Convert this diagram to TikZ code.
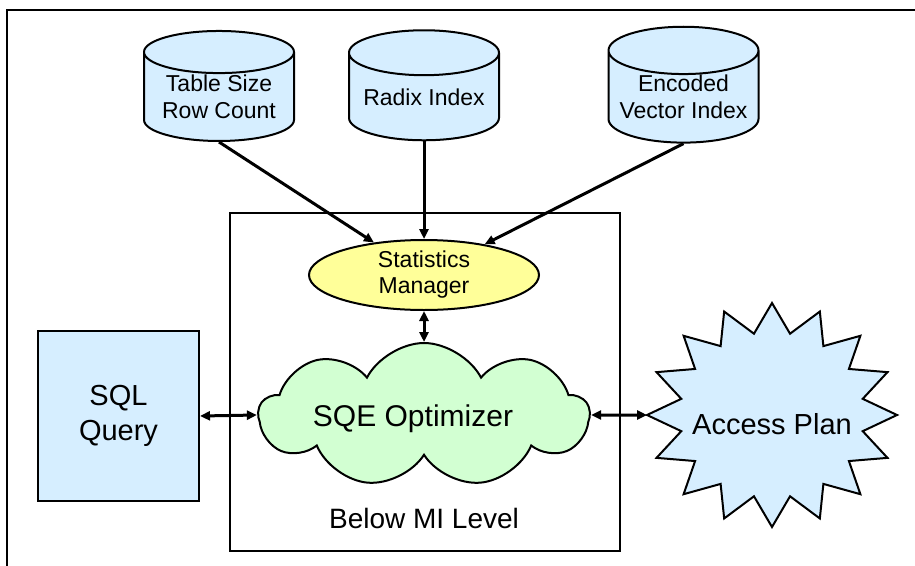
\documentclass[tikz,border=0pt]{standalone}
\usepackage{fontspec}
\setmainfont{Liberation Sans}
\usetikzlibrary{shapes.geometric,shapes.symbols,arrows.meta}

\definecolor{storeblue}{HTML}{D6EEFF}
\definecolor{statyellow}{HTML}{FFFF99}
\definecolor{optgreen}{HTML}{D2FFD2}

\begin{document}
\begin{tikzpicture}[x=1pt,y=-1pt,
    store/.style={cylinder, shape border rotate=90, aspect=0.37, draw, line width=2pt,
      fill=storeblue, minimum width=150pt, minimum height=110pt, inner sep=0pt,
      align=center, font=\fontsize{23}{27}\selectfont},
    arr/.style={line width=3pt, -{Triangle[length=10pt,width=9pt]}},
    biarr/.style={line width=3pt, {Triangle[length=10pt,width=9pt]}-{Triangle[length=10pt,width=9pt]}}]
				\useasboundingbox (0,0) rectangle (915,565);
				% frame of the slide, cut at the right and bottom
				\draw[line width=1.5pt] (7,570) -- (7,10) -- (920,10);
				
				% statistics sources
				\node[store] (size) at (219,97) {Table Size\\Row Count};
				\node[store] (radix) at (424,97) {Radix Index};
				\node[store] (evi) at (683.5,97) {Encoded\\Vector Index};
				
				% below MI level
				\draw[line width=1.6pt] (230,213) rectangle (620,551);
				\node[font=\fontsize{28}{32}\selectfont] (mi) at (424,518) {Below MI Level};
				\node[ellipse, draw, line width=2pt, fill=statyellow, minimum width=230pt, minimum height=70pt, inner sep=0pt, align=center, font=\fontsize{23}{26}\selectfont] (stats) at (424,275) {Statistics\\Manager};
				\node[cloud, cloud puffs=9, cloud puff arc=125, cloud ignores aspect, draw, line width=2pt, fill=optgreen, minimum width=330pt, minimum height=144pt, inner sep=0pt, font=\fontsize{30}{34}\selectfont] (sqe) at (424,415) {};
				\node[font=\fontsize{30}{34}\selectfont] (sqetext) at (413,419) {SQE Optimizer};
				
				% query and plan
				\node[draw, line width=2pt, fill=storeblue, minimum width=161pt, minimum height=170pt, align=center, font=\fontsize{29}{35}\selectfont] (sql) at (118.5,416) {SQL\\Query};
				\begin{scope}[shift={(772,415)}]
					\draw[line width=2pt, fill=storeblue] (90:125 and 112)
					\foreach \k [evaluate=\k as \rr using {mod(\k,2)==0 ? 1 : 0.74}] in {1,...,31} { -- ({90+\k*11.25}:{125*\rr} and {112*\rr}) } -- cycle;
					\coordinate (plantip) at (180:125 and 112);
				\end{scope}
				\node[font=\fontsize{29}{34}\selectfont] (plan) at (772,424) {Access Plan};
				
				% connectors
				\draw[arr] (size.south) -- (stats);
				\draw[arr] (radix.south) -- (stats.north);
				\draw[arr] (evi.south) -- (stats);
				\draw[biarr] (stats.south) -- (sqe.north);
				\draw[biarr] (sql.east) -- (sqe.west);
				\draw[biarr] (sqe.east) -- (plantip);
			\end{tikzpicture}
\end{document}
